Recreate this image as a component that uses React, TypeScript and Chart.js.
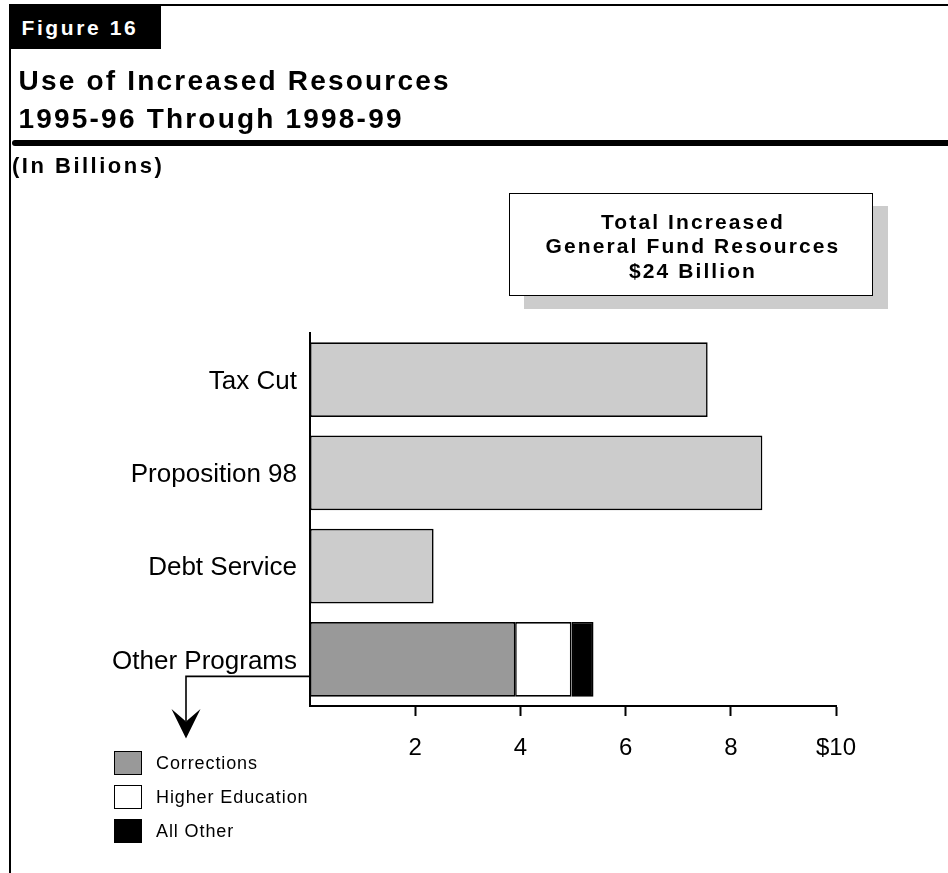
import React, { useEffect, useRef } from 'react';
import { Chart, registerables } from 'chart.js';

Chart.register(...registerables);

const categories = ['Tax Cut', 'Proposition 98', 'Debt Service', 'Other Programs'];
const totalValues = [7.56, 8.6, 2.35, null];
const correctionsValues = [null, null, null, 3.9];
const higherEdValues = [null, null, null, 1.07];
const allOtherValues = [null, null, null, 0.42];
const xTickValues = [2, 4, 6, 8, 10];
const figureLabel = 'Figure 16';
const titleLines = ['Use of Increased Resources', '1995-96 Through 1998-99'];
const unitLabel = '(In Billions)';
const boxLines = ['Total Increased', 'General Fund Resources', '$24 Billion'];
const legendLabels = ['Corrections', 'Higher Education', 'All Other'];
const legendColors = ['#999999', '#ffffff', '#000000'];

const FONT = "'Liberation Sans', Arial, Helvetica, sans-serif";

const arrowPlugin = {
  id: 'otherArrow',
  afterDraw(chart: any) {
    const { ctx, chartArea } = chart;
    const y = chart.scales.y.getPixelForValue(3) + 17;
    const xL = 186;
    ctx.save();
    ctx.strokeStyle = '#000';
    ctx.fillStyle = '#000';
    ctx.lineWidth = 1.6;
    ctx.beginPath();
    ctx.moveTo(chartArea.left, y);
    ctx.lineTo(xL, y);
    ctx.lineTo(xL, y + 45);
    ctx.stroke();
    ctx.beginPath();
    ctx.moveTo(xL, y + 62);
    ctx.lineTo(xL - 14.5, y + 32.5);
    ctx.lineTo(xL, y + 45);
    ctx.lineTo(xL + 14.5, y + 32.5);
    ctx.closePath();
    ctx.fill();
    ctx.restore();
  },
};

export default function App() {
  const ref = useRef<HTMLCanvasElement | null>(null);

  useEffect(() => {
    if (!ref.current) return;
    const ds = (label: string, data: any[], color: string) => ({
      label,
      data,
      backgroundColor: color,
      borderColor: '#000',
      borderWidth: 1.6,
      borderSkipped: false,
    });
    const chart = new Chart(ref.current, {
      type: 'bar',
      data: {
        labels: categories,
        datasets: [
          ds('Total', totalValues, '#cccccc'),
          ds(legendLabels[0], correctionsValues, legendColors[0]),
          ds(legendLabels[1], higherEdValues, legendColors[1]),
          ds(legendLabels[2], allOtherValues, legendColors[2]),
        ],
      },
      options: {
        indexAxis: 'y',
        responsive: false,
        animation: false,
        devicePixelRatio: 1,
        layout: { padding: { left: 0, top: 333, right: 112, bottom: 107 } },
        plugins: { legend: { display: false }, tooltip: { enabled: false } },
        datasets: { bar: { categoryPercentage: 1, barPercentage: 0.8 } },
        scales: {
          x: {
            type: 'linear',
            stacked: true,
            min: 0,
            max: 10,
            afterBuildTicks: (s: any) => {
              s.ticks = xTickValues.map((v) => ({ value: v }));
            },
            afterFit: (s: any) => {
              s.height = 60;
            },
            ticks: {
              callback: (v: any) => (v === 10 ? '$10' : String(v)),
              font: { size: 24, family: FONT },
              color: '#000',
              padding: 18,
              maxRotation: 0,
              autoSkip: false,
            },
            grid: { drawOnChartArea: false, drawTicks: true, tickLength: 10, tickColor: '#000', tickWidth: 2 },
            border: { display: true, color: '#000', width: 2 },
          },
          y: {
            stacked: true,
            afterFit: (s: any) => {
              s.width = 310;
            },
            grid: { display: false, drawTicks: false },
            border: { display: true, color: '#000', width: 2 },
            ticks: { font: { size: 26, family: FONT }, color: '#000', padding: 13, labelOffset: 2 },
          },
        },
      } as any,
      plugins: [arrowPlugin],
    });
    return () => chart.destroy();
  }, []);

  const abs = (s: React.CSSProperties): React.CSSProperties => ({ position: 'absolute', margin: 0, ...s });

  return (
    <div style={abs({ left: 0, top: 0, width: 948, height: 873, overflow: 'hidden', background: '#fff', fontFamily: FONT, color: '#000' })}>
      <canvas ref={ref} width={948} height={873} style={abs({ left: 0, top: 0, width: 948, height: 873 })} />
      {/* frame */}
      <div style={abs({ left: 9, top: 5, width: 2, height: 868, background: '#000' })} />
      <div style={abs({ left: 9, top: 4, width: 939, height: 2, background: '#000' })} />
      <div style={abs({ left: 9, top: 4, width: 152, height: 45, background: '#000' })} />
      <div style={abs({ left: 21.5, top: 17, fontSize: 21, lineHeight: '21px', fontWeight: 'bold', color: '#fff', letterSpacing: '2.6px', whiteSpace: 'nowrap' })}>
        {figureLabel}
      </div>
      <div style={abs({ left: 18.5, top: 62, fontSize: 28, lineHeight: '37.6px', fontWeight: 'bold', letterSpacing: '2.2px', whiteSpace: 'nowrap' })}>
        {titleLines.map((t, i) => (
          <div key={i}>{t}</div>
        ))}
      </div>
      <div style={abs({ left: 12, top: 139.5, width: 936, height: 6, background: '#000', borderRadius: '3px 0 0 3px' })} />
      <div style={abs({ left: 12, top: 155.4, fontSize: 22, lineHeight: '22px', fontWeight: 'bold', letterSpacing: '2.5px', whiteSpace: 'nowrap' })}>
        {unitLabel}
      </div>
      {/* total box */}
      <div style={abs({ left: 509, top: 193, width: 364, height: 103, boxSizing: 'border-box', border: '1.6px solid #000', background: '#fff', boxShadow: '15px 13px 0 #cccccc' })} />
      <div style={abs({ left: 509, top: 209.8, width: 364, paddingLeft: 4, boxSizing: 'border-box', textAlign: 'center', fontSize: 21, lineHeight: '24.5px', fontWeight: 'bold', letterSpacing: '2.1px', whiteSpace: 'nowrap' })}>
        {boxLines.map((t, i) => (
          <div key={i}>{t}</div>
        ))}
      </div>
      {/* legend */}
      {legendLabels.map((lab, i) => (
        <React.Fragment key={lab}>
          <div style={abs({ left: 114, top: 751 + i * 34, width: 28, height: 23.5, boxSizing: 'border-box', border: '1.6px solid #000', background: legendColors[i] })} />
          <div style={abs({ left: 156, top: 752 + i * 34, fontSize: 18, lineHeight: '23px', letterSpacing: '0.9px', whiteSpace: 'nowrap' })}>{lab}</div>
        </React.Fragment>
      ))}
    </div>
  );
}
